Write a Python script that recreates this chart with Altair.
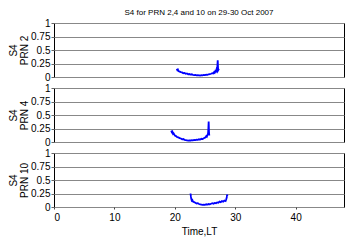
import altair as alt
import pandas as pd

# PRN 2
x_prn2 = [20.3, 20.4, 20.5, 20.6, 20.8, 21.0, 21.2, 21.4, 21.6, 21.8, 22.0, 22.2, 22.4, 22.6,
          22.8, 23.0, 23.2, 23.4, 23.6, 23.8, 24.0, 24.2, 24.4, 24.6, 24.8, 25.0, 25.2, 25.4,
          25.6, 25.8, 26.0, 26.2, 26.4, 26.5, 26.6, 26.7, 26.8, 26.9, 27.0, 27.05, 27.1, 27.15,
          27.2, 27.3]
y_prn2 = [0.15, 0.13, 0.14, 0.11, 0.10, 0.09, 0.085, 0.07, 0.075, 0.06, 0.065, 0.05, 0.055, 0.045,
          0.05, 0.04, 0.035, 0.04, 0.03, 0.035, 0.03, 0.028, 0.035, 0.03, 0.04, 0.035, 0.045, 0.04,
          0.05, 0.055, 0.06, 0.07, 0.065, 0.09, 0.08, 0.11, 0.10, 0.14, 0.12, 0.22, 0.31, 0.17,
          0.13, 0.15]

# PRN 4
x_prn4 = [19.4, 19.5, 19.6, 19.7, 19.8, 20.0, 20.2, 20.4, 20.6, 20.8, 21.0, 21.2, 21.4, 21.6,
          21.8, 22.0, 22.2, 22.4, 22.6, 22.8, 23.0, 23.2, 23.4, 23.6, 23.8, 24.0, 24.2, 24.4,
          24.6, 24.8, 25.0, 25.1, 25.2, 25.3, 25.4, 25.5, 25.55, 25.6, 25.65, 25.7]
y_prn4 = [0.21, 0.18, 0.19, 0.15, 0.16, 0.12, 0.11, 0.09, 0.085, 0.07, 0.065, 0.05, 0.055, 0.04,
          0.035, 0.03, 0.025, 0.03, 0.028, 0.035, 0.03, 0.04, 0.035, 0.045, 0.04, 0.05, 0.045, 0.06,
          0.055, 0.07, 0.08, 0.09, 0.11, 0.10, 0.13, 0.16, 0.25, 0.38, 0.20, 0.12]

# PRN 10
x_prn10 = [22.6, 22.65, 22.7, 22.8, 22.9, 23.0, 23.2, 23.4, 23.6, 23.8, 24.0, 24.2, 24.4, 24.6,
           24.8, 25.0, 25.2, 25.4, 25.6, 25.8, 26.0, 26.2, 26.4, 26.6, 26.8, 27.0, 27.2, 27.4,
           27.6, 27.8, 28.0, 28.2, 28.4, 28.5, 28.6, 28.65, 28.7]
y_prn10 = [0.25, 0.20, 0.16, 0.12, 0.13, 0.10, 0.09, 0.08, 0.065, 0.07, 0.055, 0.05, 0.045, 0.04,
           0.045, 0.04, 0.05, 0.045, 0.055, 0.05, 0.06, 0.07, 0.06, 0.075, 0.07, 0.085, 0.08, 0.10,
           0.09, 0.11, 0.10, 0.12, 0.11, 0.14, 0.18, 0.23, 0.20]

y_ticks = [0, 0.25, 0.5, 0.75, 1]
x_ticks = [0, 10, 20, 30, 40]

FONT = "Liberation Sans"
W, H = 290, 54


def panel(xs, ys, label, bottom=False, title=None):
    df = pd.DataFrame({"t": xs, "s4": ys})
    if bottom:
        xaxis = alt.Axis(values=x_ticks, title="Time,LT", grid=False, ticks=True,
                         tickSize=2, tickColor="#444444",
                         domain=False, labelFontSize=10, titleFontSize=10,
                         titleFontWeight="normal", labelPadding=3, titlePadding=4,
                         labelFont=FONT, titleFont=FONT, labelColor="black",
                         titleColor="black")
    else:
        xaxis = None
    yaxis = alt.Axis(values=y_ticks, labelExpr="datum.value", title=["S4", label],
                     grid=True, gridColor="#888888", gridWidth=1, ticks=True, tickSize=3,
                     tickColor="#666666", domain=False,
                     labelFontSize=10, titleFontSize=10, titleFontWeight="normal",
                     labelPadding=1, titlePadding=1, titleLineHeight=11,
                     labelFont=FONT, titleFont=FONT,
                     labelColor="black", titleColor="black", labelBound=False,
                     labelFlush=False)
    c = alt.Chart(df).mark_line(color="#0000ff", strokeWidth=1.8).encode(
        x=alt.X("t:Q", scale=alt.Scale(domain=[0, 48], nice=False), axis=xaxis),
        y=alt.Y("s4:Q", scale=alt.Scale(domain=[0, 1], nice=False), axis=yaxis),
    )
    props = dict(width=W, height=H)
    if title:
        props["title"] = alt.TitleParams(title, fontSize=8, font=FONT, fontWeight="normal",
                                         color="black", anchor="middle", offset=1)
    return c.properties(**props)


chart = alt.vconcat(
    panel(x_prn2, y_prn2, "PRN 2", title="S4 for PRN 2,4 and 10 on 29-30 Oct 2007"),
    panel(x_prn4, y_prn4, "PRN 4"),
    panel(x_prn10, y_prn10, "PRN 10", bottom=True),
    spacing=11,
    bounds="flush",
).properties(
    padding={"left": 0, "top": 0, "right": 0, "bottom": 0}
).configure_view(
    stroke="black", strokeWidth=1
)

chart.save("out.html", embed_options={"renderer": "svg", "actions": False})
